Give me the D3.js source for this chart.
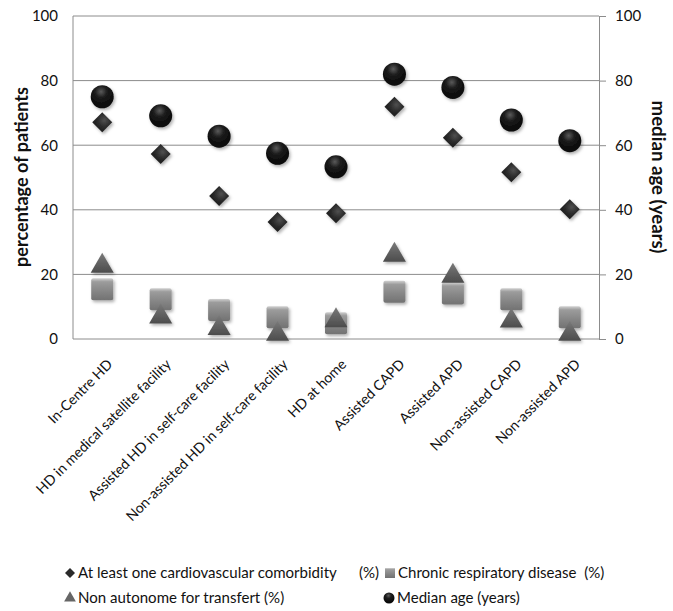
<!DOCTYPE html>
<html>
<head>
<meta charset="utf-8">
<script src="https://cdn.jsdelivr.net/npm/d3@7/dist/d3.min.js"></script>
<style>
  html, body { margin: 0; padding: 0; background: #fff; }
  svg { display: block; font-family: Lato, "Liberation Sans", Arial, sans-serif; }
</style>
</head>
<body>
<svg id="chart" width="673" height="611"></svg>
<script>
const categories = ["In-Centre HD", "HD in medical satellite facility", "Assisted HD in self-care facility",
  "Non-assisted HD in self-care facility", "HD at home", "Assisted CAPD", "Assisted APD",
  "Non-assisted CAPD", "Non-assisted APD"];
const cardiovascular = [67.1, 57.3, 44.3, 36.2, 38.9, 71.9, 62.3, 51.6, 40.2];
const respiratory = [15.4, 12.3, 9.0, 6.7, 4.9, 14.6, 14.1, 12.3, 6.7];
const nonAutonome = [22.9, 7.2, 3.6, 1.8, 6.0, 26.3, 19.8, 5.9, 1.8];
const medianAge = [75.0, 69.1, 62.8, 57.5, 53.3, 82.0, 77.9, 67.8, 61.4];
const leftTicks = [0, 20, 40, 60, 80, 100];
const rightTicks = [0, 20, 40, 60, 80, 100];

const svg = d3.select("#chart");
const m = { left: 73, right: 599, top: 16, bottom: 339 };

const x = d3.scaleBand().domain(categories).range([m.left, m.right]);
const yL = d3.scaleLinear().domain([0, 100]).range([m.bottom, m.top]);
const yR = d3.scaleLinear().domain([0, 100]).range([m.bottom, m.top]);

// helper: font size that makes text fit a target width
function fitSize(text, target, weight) {
  const t = svg.append("text").attr("font-size", 20).attr("font-weight", weight || "normal")
    .style("white-space", "pre").text(text);
  const w = t.node().getComputedTextLength();
  t.remove();
  return 20 * target / w;
}

const defs = svg.append("defs");
function radial(id, stops, cx = "40%", cy = "30%", r = "70%") {
  const g = defs.append("radialGradient").attr("id", id).attr("cx", cx).attr("cy", cy).attr("r", r);
  stops.forEach(s => g.append("stop").attr("offset", s[0]).attr("stop-color", s[1]));
}
function linear(id, stops) {
  const g = defs.append("linearGradient").attr("id", id).attr("x1", 0).attr("y1", 0).attr("x2", 0).attr("y2", 1);
  stops.forEach(s => g.append("stop").attr("offset", s[0]).attr("stop-color", s[1]));
}
radial("gCircle", [["0%", "#5a5a5a"], ["40%", "#1c1c1c"], ["100%", "#080808"]], "45%", "28%", "65%");
radial("gDiamond", [["0%", "#505050"], ["60%", "#2e2e2e"], ["100%", "#202020"]], "50%", "30%", "70%");
linear("gSquare", [["0%", "#d0d0d0"], ["16%", "#9c9c9c"], ["60%", "#858585"], ["100%", "#727272"]]);
linear("gTri", [["0%", "#7a7a7a"], ["60%", "#5e5e5e"], ["100%", "#4c4c4c"]]);
const f = defs.append("filter").attr("id", "shadow").attr("x", "-50%").attr("y", "-50%").attr("width", "200%").attr("height", "200%");
f.append("feDropShadow").attr("dx", 1.5).attr("dy", 2).attr("stdDeviation", 1.5).attr("flood-color", "#000").attr("flood-opacity", 0.3);

// gridlines
svg.append("g").selectAll("line").data(leftTicks.filter(d => d > 0)).join("line")
  .attr("x1", m.left).attr("x2", m.right)
  .attr("y1", d => yL(d)).attr("y2", d => yL(d))
  .attr("stroke", "#8c8c8c").attr("stroke-width", 1);

svg.append("line").attr("x1", m.left).attr("x2", m.left).attr("y1", m.top).attr("y2", m.bottom).attr("stroke", "#8c8c8c");
svg.append("line").attr("x1", m.left).attr("x2", m.right).attr("y1", m.bottom).attr("y2", m.bottom).attr("stroke", "#8c8c8c");

// left axis labels
const gl = svg.append("g").attr("transform", `translate(${m.left},0)`)
  .call(d3.axisLeft(yL).tickValues(leftTicks).tickSize(0).tickPadding(15));
gl.select(".domain").remove();
gl.selectAll("text").attr("font-size", 15).attr("fill", "#111").attr("font-family", "Lato, sans-serif");

// right axis
const gr = svg.append("g").attr("transform", `translate(${m.right},0)`)
  .call(d3.axisRight(yR).tickValues(rightTicks).tickSize(7).tickPadding(9));
gr.select(".domain").attr("stroke", "#8c8c8c");
gr.selectAll(".tick line").attr("stroke", "#8c8c8c");
gr.selectAll("text").attr("font-size", 15).attr("fill", "#111").attr("font-family", "Lato, sans-serif");

// axis titles
const t1 = "percentage of patients", t2 = "median age (years)";
svg.append("text").attr("transform", `translate(28,177) rotate(-90)`).attr("text-anchor", "middle")
  .attr("font-size", fitSize(t1, 180, "bold")).attr("font-weight", "bold").attr("fill", "#111").text(t1);
svg.append("text").attr("transform", `translate(652,177) rotate(90)`).attr("text-anchor", "middle")
  .attr("font-size", fitSize(t2, 153, "bold")).attr("font-weight", "bold").attr("fill", "#111").text(t2);

// category labels
const catSize = fitSize(categories[3], 222);
const capOff = 0.707 * 0.72 * catSize;
svg.append("g").selectAll("text").data(categories).join("text")
  .attr("transform", d => `translate(${x(d) + x.bandwidth() / 2 + 4 + capOff},${358 + capOff}) rotate(-45)`)
  .attr("text-anchor", "end").attr("font-size", catSize).attr("fill", "#111").text(d => d);

const cx = d => x(d) + x.bandwidth() / 2;
const marks = svg.append("g").attr("filter", "url(#shadow)");

marks.append("g").selectAll("rect").data(categories).join("rect")
  .attr("x", d => cx(d) - 11).attr("y", (d, i) => yL(respiratory[i]) - 11)
  .attr("width", 22).attr("height", 22).attr("rx", 2)
  .attr("fill", "url(#gSquare)");

const tri = d3.symbol().type(d3.symbolTriangle).size(230);
marks.append("g").selectAll("path").data(categories).join("path")
  .attr("d", tri)
  .attr("transform", (d, i) => `translate(${cx(d)},${yL(nonAutonome[i]) + 1})`)
  .attr("fill", "url(#gTri)");

const dia = d3.symbol().type(d3.symbolSquare).size(200);
marks.append("g").selectAll("path").data(categories).join("path")
  .attr("d", dia)
  .attr("transform", (d, i) => `translate(${cx(d)},${yL(cardiovascular[i])}) rotate(45)`)
  .attr("fill", "url(#gDiamond)");

marks.append("g").selectAll("circle").data(categories).join("circle")
  .attr("cx", cx).attr("cy", (d, i) => yR(medianAge[i])).attr("r", 11.5)
  .attr("fill", "url(#gCircle)");

// legend
const legSize = fitSize("At least one cardiovascular comorbidity", 259);
const lg = svg.append("g").attr("font-size", legSize).attr("fill", "#111");
const legendItems = [
  { label: "At least one cardiovascular comorbidity", x: 70, y: 573, shape: "diamond" },
  { label: "(%)", x: 351, y: 573, shape: "none" },
  { label: "Chronic respiratory disease  (%)", x: 390, y: 573, shape: "square" },
  { label: "Non autonome for transfert (%)", x: 70, y: 598, shape: "triangle" },
  { label: "Median age (years)", x: 389, y: 598, shape: "circle" }
];
legendItems.forEach(it => {
  const g = lg.append("g").attr("transform", `translate(${it.x},${it.y})`);
  if (it.shape === "diamond") g.append("path").attr("d", d3.symbol().type(d3.symbolSquare).size(50)).attr("transform", "rotate(45)").attr("fill", "#2a2a2a");
  if (it.shape === "square") g.append("rect").attr("x", -5).attr("y", -5).attr("width", 10).attr("height", 10).attr("fill", "url(#gSquare)");
  if (it.shape === "triangle") g.append("path").attr("d", d3.symbol().type(d3.symbolTriangle).size(60)).attr("fill", "#666");
  if (it.shape === "circle") g.append("circle").attr("r", 5.5).attr("fill", "url(#gCircle)");
  g.append("text").attr("x", 8).attr("dy", "0.36em").style("white-space", "pre").text(it.label);
});
</script>
</body>
</html>
